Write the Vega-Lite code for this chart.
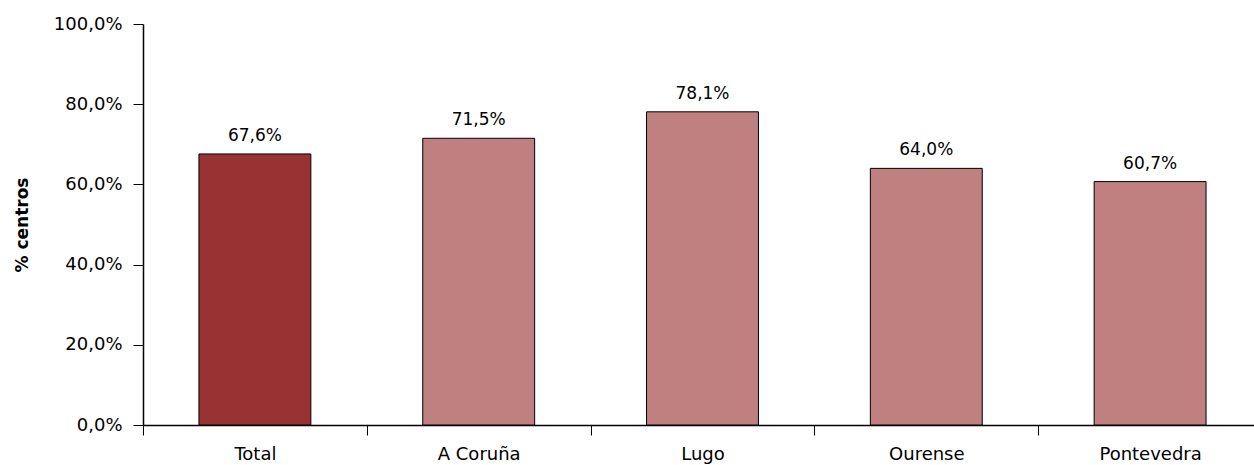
{
  "$schema": "https://vega.github.io/schema/vega-lite/v6.json",
  "autosize": "none",
  "padding": {"left": 143, "top": 24, "right": 0, "bottom": 40},
  "width": 1119,
  "height": 401,
  "background": "white",
  "config": {
    "locale": {"number": {"decimal": ",", "thousands": ".", "grouping": [3], "currency": ["", " €"]}},
    "view": {"stroke": null},
    "font": "DejaVu Sans"
  },
  "data": {
    "values": [
      {"region": "Total", "value": 0.676, "kind": "total"},
      {"region": "A Coruña", "value": 0.715, "kind": "prov"},
      {"region": "Lugo", "value": 0.781, "kind": "prov"},
      {"region": "Ourense", "value": 0.640, "kind": "prov"},
      {"region": "Pontevedra", "value": 0.607, "kind": "prov"}
    ]
  },
  "encoding": {
    "x": {
      "field": "region", "type": "nominal", "sort": null,
      "scale": {"paddingInner": 0, "paddingOuter": 0},
      "axis": {
        "title": null, "labelAngle": 0, "labelFontSize": 18, "labelColor": "black",
        "domainColor": "black", "tickColor": "black", "tickSize": 10, "tickBand": "extent",
        "labelPadding": 10, "domainWidth": 1.5, "tickWidth": 1
      }
    },
    "y": {
      "field": "value", "type": "quantitative",
      "scale": {"domain": [0, 1]},
      "axis": {
        "title": "% centros", "titleFontSize": 17, "titleFontWeight": "bold", "titleColor": "black",
        "titlePadding": 22,
        "values": [0, 0.2, 0.4, 0.6, 0.8, 1], "format": ".1%", "grid": false,
        "labelFontSize": 18, "labelColor": "black", "domainColor": "black", "tickColor": "black",
        "tickSize": 10, "labelPadding": 11, "domainWidth": 1.5
      }
    }
  },
  "layer": [
    {
      "mark": {"type": "bar", "stroke": "black", "strokeWidth": 1, "width": {"band": 0.5}},
      "encoding": {
        "color": {
          "field": "kind", "type": "nominal",
          "scale": {"domain": ["total", "prov"], "range": ["#993333", "#C08080"]},
          "legend": null
        }
      }
    },
    {
      "mark": {"type": "text", "baseline": "alphabetic", "dy": -13, "fontSize": 17, "color": "black"},
      "encoding": {
        "text": {"field": "value", "type": "quantitative", "format": ".1%"}
      }
    }
  ]
}
